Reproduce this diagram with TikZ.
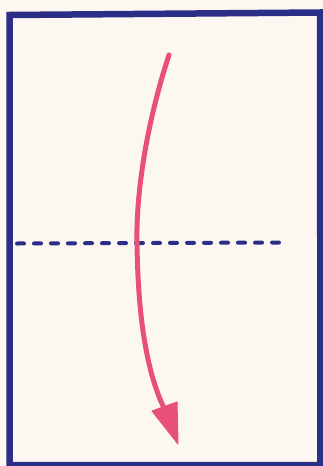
\documentclass[tikz,border=0pt]{standalone}
\usetikzlibrary{arrows.meta}
\definecolor{paper}{HTML}{FCF7F0}
\definecolor{navy}{HTML}{2B2E86}
\definecolor{pinkred}{HTML}{E8507A}
\tikzset{
  frameline/.style={draw=navy, line width=6.5pt},
  foldline/.style={draw=navy, line width=4pt, line cap=round, dash pattern=on 7pt off 10pt},
  arrowline/.style={draw=pinkred, line width=5pt, line cap=round},
  arrowhead/.style={fill=pinkred, draw=pinkred, line width=1pt, line join=round}
}
\begin{document}
\begin{tikzpicture}[x=1pt,y=-1pt]
\useasboundingbox (0,0) rectangle (323,466);
\fill[paper] (0,0) rectangle (323,466);
\draw[frameline] (9.5,15) -- (320,12.5) -- (320.5,465) -- (9.5,465) -- cycle;
\coordinate (f1) at (17,243.5);
\coordinate (f2) at (283,242.5);
\draw[foldline] (f1) -- (f2);
\coordinate (s) at (169,55);
\coordinate (m) at (137,242);
\coordinate (e) at (165,410);
\coordinate (b1) at (152,411);
\coordinate (b2) at (177,402);
\coordinate (t) at (178,444);
\draw[arrowline] (s) .. controls (146,125) and (136,195) .. (m) .. controls (138,330) and (150,380) .. (e);
\filldraw[arrowhead] (b1) -- (b2) -- (t) -- cycle;
\end{tikzpicture}
\end{document}
